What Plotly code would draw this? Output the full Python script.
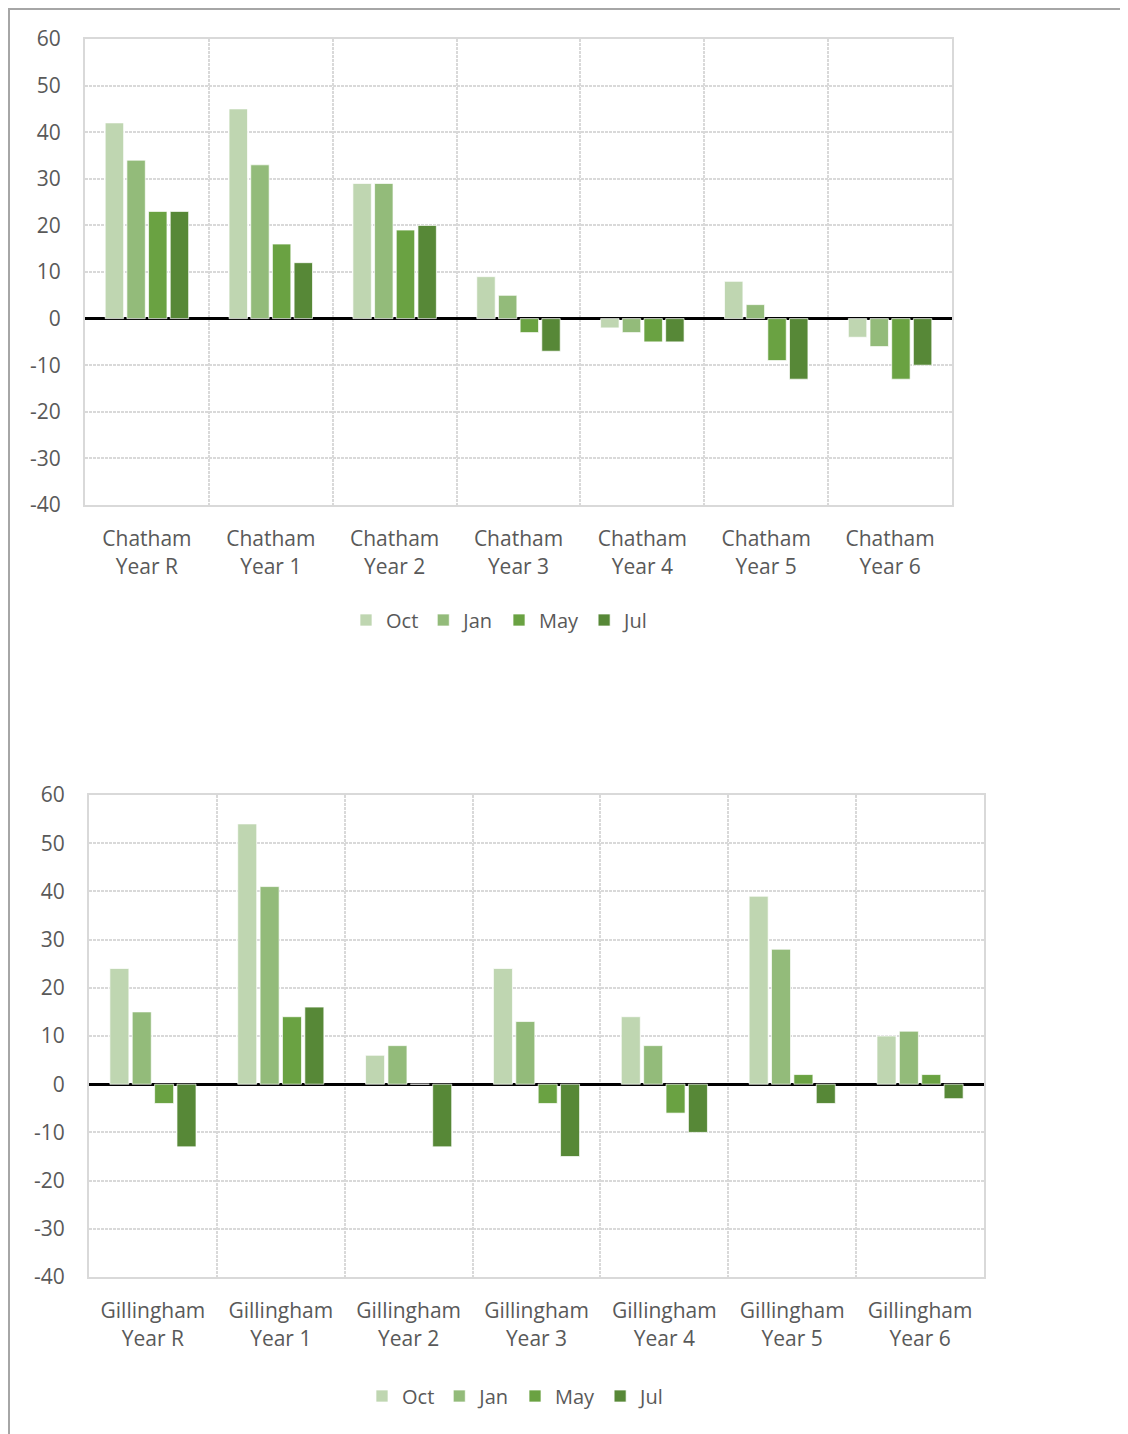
import plotly.graph_objects as go

series_names = ["Oct", "Jan", "May", "Jul"]
colors = ["#bfd6b1", "#93bb7a", "#6aa242", "#578837"]

chatham_cats = ["Chatham<br>Year R", "Chatham<br>Year 1", "Chatham<br>Year 2", "Chatham<br>Year 3",
                "Chatham<br>Year 4", "Chatham<br>Year 5", "Chatham<br>Year 6"]
chatham_oct = [42, 45, 29, 9, -2, 8, -4]
chatham_jan = [34, 33, 29, 5, -3, 3, -6]
chatham_may = [23, 16, 19, -3, -5, -9, -13]
chatham_jul = [23, 12, 20, -7, -5, -13, -10]

gill_cats = ["Gillingham<br>Year R", "Gillingham<br>Year 1", "Gillingham<br>Year 2", "Gillingham<br>Year 3",
             "Gillingham<br>Year 4", "Gillingham<br>Year 5", "Gillingham<br>Year 6"]
gill_oct = [24, 54, 6, 24, 14, 39, 10]
gill_jan = [15, 41, 8, 13, 8, 28, 11]
gill_may = [-4, 14, 0, -4, -6, 2, 2]
gill_jul = [-13, 16, -13, -15, -10, -4, -3]

y_ticks = [60, 50, 40, 30, 20, 10, 0, -10, -20, -30, -40]
y_tick_text = ["60", "50", "40", "30", "20", "10", "0", "-10", "-20", "-30", "-40"]

# page offset of the default 8px body margin
OFF = 8
W, H = 1120, 1426
FONT = "Open Sans"
TXT = "#595959"
GRID = "#d9d9d9"

fig = go.Figure()

chatham = [chatham_oct, chatham_jan, chatham_may, chatham_jul]
gill = [gill_oct, gill_jan, gill_may, gill_jul]

for name, col, vals in zip(series_names, colors, chatham):
    fig.add_trace(go.Bar(x=chatham_cats, y=vals, name=name, marker_color=col,
                         marker_line_color="rgba(255,255,255,0.7)", marker_line_width=1,
                         xaxis="x", yaxis="y", legend="legend"))
for name, col, vals in zip(series_names, colors, gill):
    fig.add_trace(go.Bar(x=gill_cats, y=vals, name=name, marker_color=col,
                         marker_line_color="rgba(255,255,255,0.7)", marker_line_width=1,
                         xaxis="x2", yaxis="y2", legend="legend2"))


def px_x(p):
    return (p - OFF) / W


def px_y(p):
    return 1 - (p - OFF) / H


xaxis_common = dict(type="category", tickson="boundaries", showgrid=True, gridcolor=GRID,
                    griddash="3px,1px", gridwidth=2, ticks="", showline=True, mirror=True,
                    linecolor=GRID, linewidth=2, zeroline=False, automargin=False,
                    tickfont=dict(family=FONT, size=21, color=TXT), ticklabelstandoff=14)
yaxis_common = dict(range=[-40, 60], tickvals=y_ticks, ticktext=y_tick_text, showgrid=True,
                    gridcolor=GRID, griddash="3px,1px", gridwidth=2, zeroline=True,
                    zerolinecolor="#000000", zerolinewidth=2.5, showline=True, mirror=True,
                    linecolor=GRID, linewidth=2, ticks="", automargin=False,
                    tickfont=dict(family=FONT, size=21, color=TXT), ticklabelstandoff=18)

fig.update_layout(
    width=W, height=H,
    margin=dict(l=0, r=0, t=0, b=0, autoexpand=False),
    paper_bgcolor="white", plot_bgcolor="white",
    barmode="group", bargap=0.3, bargroupgap=0.15,
    xaxis=dict(domain=[px_x(85), px_x(952)], anchor="y", **xaxis_common),
    yaxis=dict(domain=[px_y(505), px_y(39)], anchor="x", **yaxis_common),
    xaxis2=dict(domain=[px_x(89), px_x(984)], anchor="y2", **xaxis_common),
    yaxis2=dict(domain=[px_y(1277), px_y(795)], anchor="x2", **yaxis_common),
    legend=dict(orientation="h", x=px_x(500), xanchor="center", y=px_y(620), yanchor="middle",
                font=dict(family=FONT, size=20, color=TXT), itemwidth=30, traceorder="normal"),
    legend2=dict(orientation="h", x=px_x(516), xanchor="center", y=px_y(1396), yanchor="middle",
                 font=dict(family=FONT, size=20, color=TXT), itemwidth=30, traceorder="normal"),
    shapes=[
        dict(type="line", xref="paper", yref="paper", x0=0, x1=1, y0=1 - 1 / H, y1=1 - 1 / H,
             line=dict(color="#a6a6a6", width=2)),
        dict(type="line", xref="paper", yref="paper", x0=1 / W, x1=1 / W, y0=0, y1=1,
             line=dict(color="#a6a6a6", width=2)),
    ],
)

fig.write_html("out.html")
